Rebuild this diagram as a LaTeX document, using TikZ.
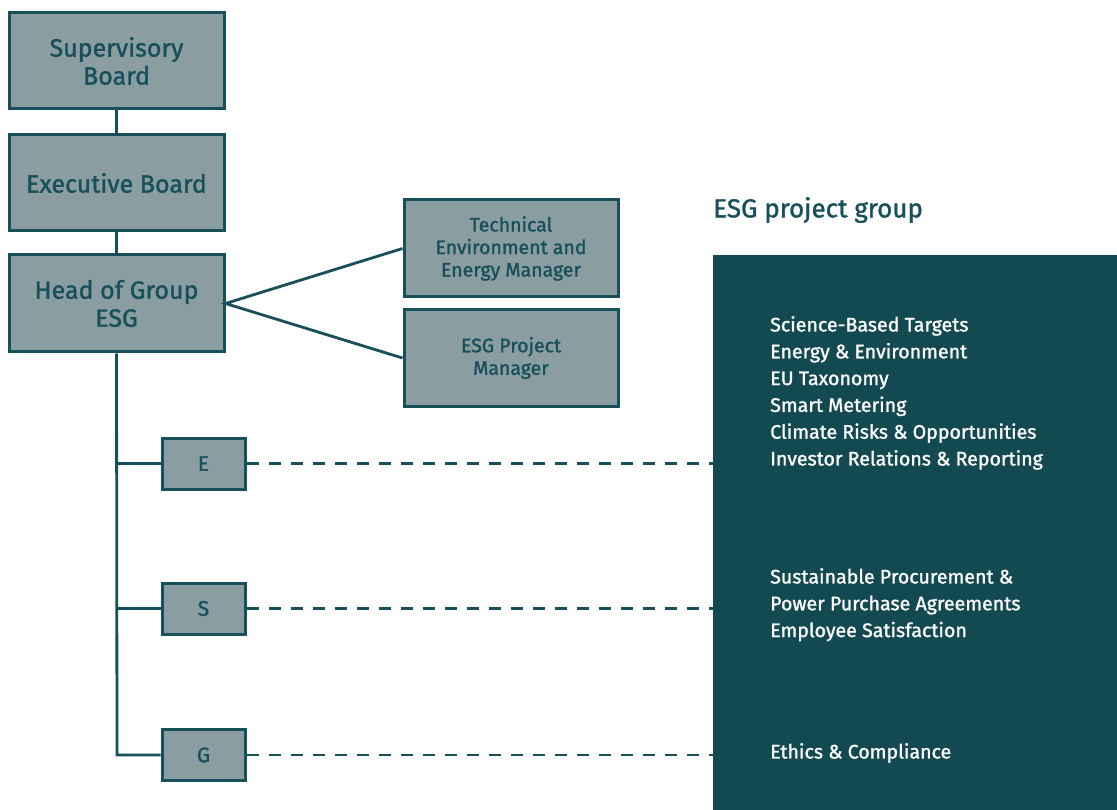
\documentclass[tikz,border=0pt]{standalone}
\usepackage{fontspec}
\setmainfont{Fira Sans}[FakeBold=1.3]
\definecolor{boxfill}{HTML}{8A9DA1}
\definecolor{teal}{HTML}{17505B}
\definecolor{darkbox}{HTML}{134A52}
\begin{document}
\begin{tikzpicture}[x=1pt,y=-1pt,
  orgbox/.style={draw=teal, line width=3pt, fill=boxfill, inner sep=0pt, align=center, text=teal, font=\fontsize{25}{28}\selectfont},
  smallbox/.style={orgbox, font=\fontsize{19.5}{22.5}\selectfont},
  letterbox/.style={orgbox, font=\fontsize{21}{22}\selectfont},
  conn/.style={draw=teal, line width=2.8pt},
  dashconn/.style={conn, dash pattern=on 12pt off 10pt},
  listtext/.style={anchor=north west, align=left, text=white, inner sep=0pt, font=\fontsize{19.6}{26.8}\selectfont}
]
\useasboundingbox (0,0) rectangle (1117,810);
\fill[white!98!black!1] (0,0) rectangle (1117,810);
% dark group box
\fill[darkbox] (713,255) rectangle (1117,810);
\node[anchor=west, text=teal, inner sep=0pt, font=\fontsize{26}{28}\selectfont] (title) at (713,210) {ESG project group};

\coordinate (trunk) at (117,755);
\coordinate (de) at (713,463.5);
\coordinate (ds) at (713,608.5);
\coordinate (dg) at (713,755);

% org boxes
\node[orgbox, minimum width=215pt, minimum height=96pt] (sup) at (116.5,61) {Supervisory\\Board};
\node[orgbox, minimum width=215pt, minimum height=96pt] (exe) at (116.5,183) {Executive Board};
\node[orgbox, minimum width=215pt, minimum height=97pt] (head) at (116.5,303.5) {Head of Group\\ESG};
\node[smallbox, minimum width=214pt, minimum height=97pt] (tech) at (511,248.5) {Technical\\Environment and\\Energy Manager};
\node[smallbox, minimum width=214pt, minimum height=96pt] (pm) at (511,358) {ESG Project\\Manager};
\node[letterbox, minimum width=83pt, minimum height=51pt] (e) at (203.5,463.5) {E};
\node[letterbox, minimum width=83pt, minimum height=51pt] (s) at (203.5,608.5) {S};
\node[letterbox, minimum width=83pt, minimum height=51pt] (g) at (203.5,755) {G};

\draw[conn] (sup.south) -- (exe.north);
\draw[conn] (exe.south) -- (head.north);
\draw[conn] (tech.west) -- (head.east) -- (pm.west);
\draw[conn, line join=miter] (head.south) -- (trunk) -- (g.west);
\draw[conn] (head.south |- e.west) -- (e.west);
\draw[conn] (head.south |- s.west) -- (s.west);
\draw[dashconn] (e.east) -- (de);
\draw[dashconn] (s.east) -- (ds);
\draw[dashconn] (g.east) -- (dg);

% list texts
\node[listtext] (l1) at (770,316) {Science-Based Targets\\Energy \& Environment\\EU Taxonomy\\Smart Metering\\Climate Risks \& Opportunities\\Investor Relations \& Reporting};
\node[listtext] (l2) at (770,568) {Sustainable Procurement \&\\Power Purchase Agreements\\Employee Satisfaction};
\node[listtext] (l3) at (770,743) {Ethics \& Compliance};
\end{tikzpicture}
\end{document}
